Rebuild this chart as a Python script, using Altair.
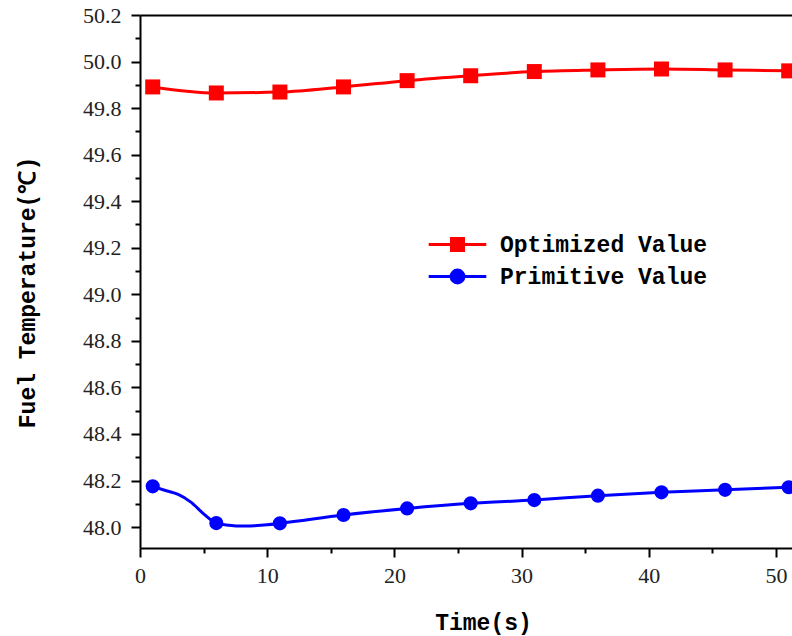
import altair as alt
import pandas as pd

# ---- data ----
series_names = ["Optimized Value", "Primitive Value"]
series_colors = ["#ff0000", "#0000ff"]

marker_time = [1, 6, 11, 16, 21, 26, 31, 36, 41, 46, 51]
optimized = [49.891, 49.865, 49.869, 49.891, 49.918, 49.939, 49.957, 49.964, 49.968, 49.964, 49.960]
primitive = [48.175, 48.017, 48.016, 48.052, 48.080, 48.102, 48.116, 48.135, 48.149, 48.160, 48.171]

# denser samples of the primitive curve between the first markers
primitive_line_time = [1, 2, 3, 4, 5, 6, 7, 8, 9, 10, 11, 16, 21, 26, 31, 36, 41, 46, 51]
primitive_line = [48.175, 48.157, 48.140, 48.107, 48.057, 48.017, 48.008, 48.004, 48.006, 48.010,
                  48.016, 48.052, 48.080, 48.102, 48.116, 48.135, 48.149, 48.160, 48.171]

x_tick_values = [0, 5, 10, 15, 20, 25, 30, 35, 40, 45, 50]
y_tick_values = [48.0, 48.1, 48.2, 48.3, 48.4, 48.5, 48.6, 48.7, 48.8, 48.9, 49.0, 49.1,
                 49.2, 49.3, 49.4, 49.5, 49.6, 49.7, 49.8, 49.9, 50.0, 50.1, 50.2]

x_domain = [0, 51.26]
y_domain = [47.91, 50.2]

# ---- tables ----
opt_df = pd.DataFrame({"time": marker_time, "value": optimized, "series": series_names[0]})
prim_df = pd.DataFrame({"time": marker_time, "value": primitive, "series": series_names[1]})
prim_line_df = pd.DataFrame({"time": primitive_line_time, "value": primitive_line,
                             "series": series_names[1]})
all_df = pd.concat([opt_df, prim_df], ignore_index=True)

TITLE_FONT = "Liberation Mono"
LABEL_FONT = "Liberation Serif"

x_scale = alt.Scale(domain=x_domain, nice=False, zero=False)
y_scale = alt.Scale(domain=y_domain, nice=False, zero=False)

x_axis = alt.Axis(
    values=x_tick_values,
    labelExpr="datum.value % 10 === 0 ? datum.label : ''",
    tickSize={"condition": {"test": "datum.value % 10 === 0", "value": 9}, "value": 5},
    labelPadding=8,
    title="Time(s)", titleX=343, titleY=74, titleBaseline="middle", titleAlign="center",
)
y_axis = alt.Axis(
    values=y_tick_values,
    labelExpr="round(datum.value * 10) % 2 === 0 ? format(datum.value, '.1f') + '\u00a0' : ''",
    tickSize={"condition": {"test": "round(datum.value * 10) % 2 === 0", "value": 9}, "value": 5},
    title="Fuel Temperature(℃)", titleX=-113, titleY=277, titleAngle=-90, titleBaseline="middle",
    titleAlign="center",
)

# legend symbols: line through a marker (unit box scaled by sqrt(symbolSize)/2 = 8 px)
square_path = "M-3.6,0H3.6M-0.75,-0.75H0.75V0.75H-0.75Z"
circle_path = "M-3.6,0H3.6M-0.8,0A0.8,0.8 0 1,0 0.8,0A0.8,0.8 0 1,0 -0.8,0Z"
color_scale = alt.Scale(domain=series_names, range=series_colors)
shape_scale = alt.Scale(domain=series_names, range=[square_path, circle_path])

legend = alt.Legend(
    title=None, orient="none", legendX=306, legendY=218, padding=0,
    symbolSize=256, symbolStrokeWidth=3, symbolOpacity=1, labelOffset=31, rowPadding=7,
    labelFont=TITLE_FONT, labelFontSize=23, labelFontWeight="bold", labelColor="black",
    labelLimit=400,
)


def xy(axis_x=None):
    return dict(
        x=alt.X("time:Q", scale=x_scale, axis=axis_x),
        y=alt.Y("value:Q", scale=y_scale, axis=y_axis),
    )


red_line = alt.Chart(opt_df).mark_line(
    strokeWidth=3, interpolate="monotone", clip=True, color=series_colors[0]
).encode(**xy(x_axis))

blue_line = alt.Chart(prim_line_df).mark_line(
    strokeWidth=3, interpolate="monotone", clip=True, color=series_colors[1]
).encode(**xy())

squares = alt.Chart(opt_df).mark_point(
    shape="square", filled=True, size=225, opacity=1, clip=True, color=series_colors[0]
).encode(**xy())

circles = alt.Chart(prim_df).mark_point(
    shape="circle", filled=True, size=200, opacity=1, clip=True, color=series_colors[1]
).encode(**xy())

# legend-only layer: no rows survive the filter; legend comes from the explicit scale domains
legend_layer = alt.Chart(all_df).transform_filter(
    alt.datum.time < 0
).mark_point(opacity=1, strokeWidth=3).encode(
    **xy(),
    fill=alt.Fill("series:N", scale=color_scale, legend=legend),
    stroke=alt.Stroke("series:N", scale=color_scale, legend=legend),
    shape=alt.Shape("series:N", scale=shape_scale, legend=legend),
)

# top frame line drawn as a second x axis with no ticks or labels
top_axis = alt.Chart(all_df).mark_point(opacity=0).encode(
    **xy(alt.Axis(orient="top", labels=False, ticks=False, title=None))
)

chart = alt.layer(red_line, blue_line, squares, circles, legend_layer, top_axis).resolve_axis(
    x="independent"
).properties(
    width=652, height=533,
    autosize=alt.AutoSizeParams(type="none"),
    padding={"left": 140, "top": 15, "right": 0, "bottom": 88},
    background="white",
).configure_view(
    stroke=None
).configure_axis(
    labelFont=LABEL_FONT, labelFontSize=22, labelColor="#222222", labelFlush=False,
    tickColor="black", tickWidth=2, domainColor="black", domainWidth=2, grid=False,
    titleFont=TITLE_FONT, titleFontSize=23, titleFontWeight="bold", titleColor="black",
).configure_axisY(
    labelPadding=10,
)

chart.save("out.html", embed_options={"renderer": "svg", "actions": False})
